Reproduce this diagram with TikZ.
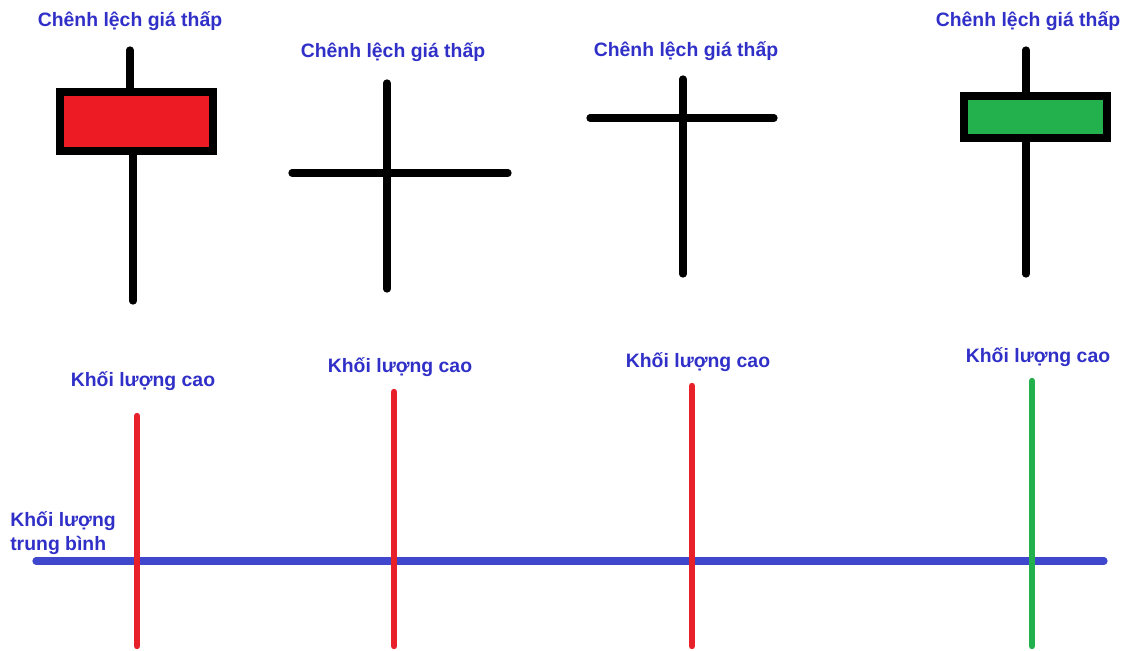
\documentclass[tikz,border=0pt]{standalone}
\usepackage{fontspec}
\setmainfont{Liberation Sans}
\usetikzlibrary{positioning}
\definecolor{txtblue}{HTML}{3030C8}
\definecolor{avgblue}{HTML}{3F48CC}
\definecolor{volred}{HTML}{E8202A}
\definecolor{volgreen}{HTML}{22B14C}
\definecolor{bodyred}{HTML}{ED1C24}
\tikzset{
  lbl/.style={font=\fontsize{13.8}{17}\selectfont\bfseries, text=txtblue, inner sep=0pt},
  wick/.style={line width=0.18cm, line cap=round},
  cbody/.style={draw=black, line width=0.2cm},
  vbar/.style={line width=0.16cm, line cap=round},
}
\begin{document}
\begin{tikzpicture}[x=0.025cm, y=-0.025cm]
\useasboundingbox (0,0) rectangle (1133,651);

% Candle 1 (red body)
\node[lbl] (t1) at (130,21) {Chênh lệch giá thấp};
\draw[wick] (130,50) -- (130,92);
\draw[wick] (133,151) -- (133,301);
\filldraw[cbody, fill=bodyred] (60,92) rectangle (213,151);

% Candle 2 (doji)
\node[lbl] (t2) at (393,52) {Chênh lệch giá thấp};
\draw[wick] (387,83) -- (387,289);
\draw[wick] (292,173) -- (508,173);

% Candle 3 (doji, high cross)
\node[lbl] (t3) at (686,51) {Chênh lệch giá thấp};
\draw[wick] (683,79) -- (683,274);
\draw[wick] (590,118) -- (774,118);

% Candle 4 (green body)
\node[lbl] (t4) at (1028,21) {Chênh lệch giá thấp};
\draw[wick] (1026,50) -- (1026,96);
\draw[wick] (1026,138) -- (1026,274);
\filldraw[cbody, fill=volgreen] (964,96) rectangle (1107,138);

% Average volume
\node[lbl, align=left, anchor=north west] (avg) at (10,511) {Khối lượng\\trung bình};
\coordinate (a1) at (36,561);
\coordinate (a2) at (1104,561);
\draw[avgblue, line width=0.18cm, line cap=round] (a1) -- (a2);

% Volume bars
\foreach \x/\top/\ly/\col [count=\i] in {137/416/381/volred, 394/392/367/volred, 692/386/362/volred, 1032/381/357/volgreen} {
  \node[lbl] (v\i) at (\x+6,\ly) {Khối lượng cao};
  \draw[vbar, \col] (\x,\top) -- (\x,646);
}

\end{tikzpicture}
\end{document}
